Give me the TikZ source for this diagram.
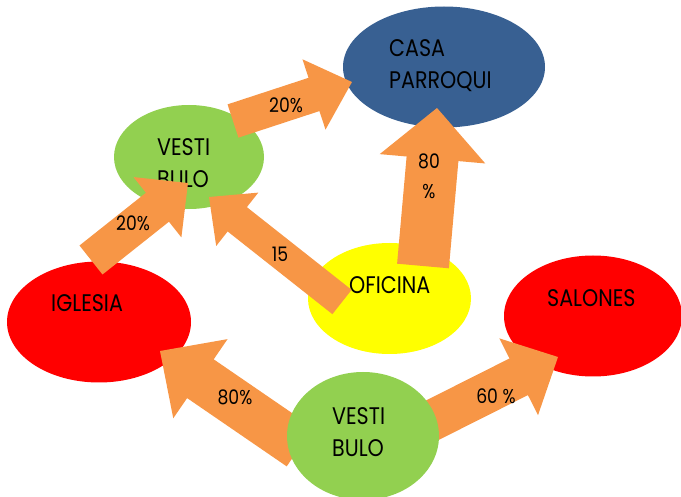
\documentclass[tikz,border=0pt]{standalone}
\usepackage{fontspec}
\setmainfont{Poppins}[FakeStretch=0.86]
\usetikzlibrary{calc,shapes.geometric}

\definecolor{azulcasa}{RGB}{56,96,146}
\definecolor{verde}{RGB}{146,208,80}
\definecolor{rojo}{RGB}{255,0,0}
\definecolor{amarillo}{RGB}{255,255,0}
\definecolor{naranja}{RGB}{247,150,70}

\tikzset{
  lugar/.style={ellipse, draw=none, inner sep=0},
  rotulo/.style={inner sep=0, anchor=west, align=left, font=\fontsize{24}{32}\selectfont},
  porcentaje/.style={inner sep=0, align=center, font=\fontsize{20}{30}\selectfont},
  relleno/.style={fill=naranja}
}

% block arrow: tail, tip, half shaft, half head, head length
\newcommand{\flecha}[5]{%
  \coordinate (cuello) at ($(#2)!#5pt!(#1)$);
  \fill[relleno] ($(#1)!#3pt!90:(#2)$) -- ($(cuello)!#3pt!90:(#2)$)
    -- ($(cuello)!#4pt!90:(#2)$) -- (#2) -- ($(cuello)!#4pt!-90:(#2)$)
    -- ($(cuello)!#3pt!-90:(#2)$) -- ($(#1)!#3pt!-90:(#2)$) -- cycle;
}

\begin{document}
\begin{tikzpicture}[x=1pt,y=-1pt]
        \clip (0,0) rectangle (681,497);

        % Places
        \node[lugar, fill=azulcasa,
        minimum width=202pt,
        minimum height=121pt] (casa) at (444,67) {};
        \node[rotulo] (casa-t) at (389,66) {CASA\\PARROQUI};

        \node[lugar, fill=verde,
        minimum width=150pt,
        minimum height=104pt] (vesti1) at (189,157) {};
        \node[rotulo] (vesti1-t) at (157,163) {VESTI\\BULO};

        \node[lugar, fill=rojo,
        minimum width=184pt,
        minimum height=121pt] (iglesia) at (99,322) {};
        \node[rotulo] (iglesia-t) at (51,303) {IGLESIA};

        \node[lugar, fill=amarillo,
        minimum width=163pt,
        minimum height=111pt] (oficina) at (389.5,298.5) {};
        \node[rotulo] (oficina-t) at (349,285) {OFICINA};

        \node[lugar, fill=rojo,
        minimum width=178pt,
        minimum height=121pt] (salones) at (593,316) {};
        \node[rotulo] (salones-t) at (547,298) {SALONES};

        % Arrow ends
        \coordinate (f1a) at ($(vesti1)+(44,-36)$);
        \coordinate (f1b) at ($(casa)+(-92,15)$);
        \coordinate (f2a) at ($(iglesia)+(-8,-62)$);
        \coordinate (f2b) at ($(vesti1)+(-1,26)$);
        \coordinate (f3a) at ($(oficina)+(-47.5,3.5)$);
        \coordinate (f3b) at ($(vesti1)+(20,40)$);
        \coordinate (f4a) at ($(oficina)+(33.5,-32.5)$);
        \coordinate (f4b) at ($(casa)+(-7,41)$);
        \coordinate (f5a) at (300,447);
        \coordinate (f5b) at ($(iglesia)+(61,29)$);
        \coordinate (f6a) at (397,438);
        \coordinate (f6b) at ($(salones)+(-35,41)$);

        % Arrows
        \flecha{f1a}{f1b}{17.5}{37}{40}
        \flecha{f2a}{f2b}{18.5}{38.5}{39}
        \flecha{f3a}{f3b}{15.5}{34}{36}
        \flecha{f4a}{f4b}{26}{53}{51}
        \flecha{f5a}{f5b}{23.5}{48}{49}
        \flecha{f6a}{f6b}{20.5}{43}{44}

        \node[porcentaje] (p1) at (286,105) {20\%};
        \node[porcentaje] (p2) at (133,223) {20\%};
        \node[porcentaje] (p3) at (280,254) {15};
        \node[porcentaje] (p4) at (429,176) {80\\\%};
        \node[porcentaje] (p5) at (235,397) {80\%};
        \node[porcentaje] (p6) at (496,396) {60 \%};

        % Lower hall on top
        \node[lugar, fill=verde,
        minimum width=152pt,
        minimum height=128pt] (vesti2) at (363,436) {};
        \node[rotulo] (vesti2-t) at (332,432) {VESTI\\BULO};
\end{tikzpicture}
\end{document}
